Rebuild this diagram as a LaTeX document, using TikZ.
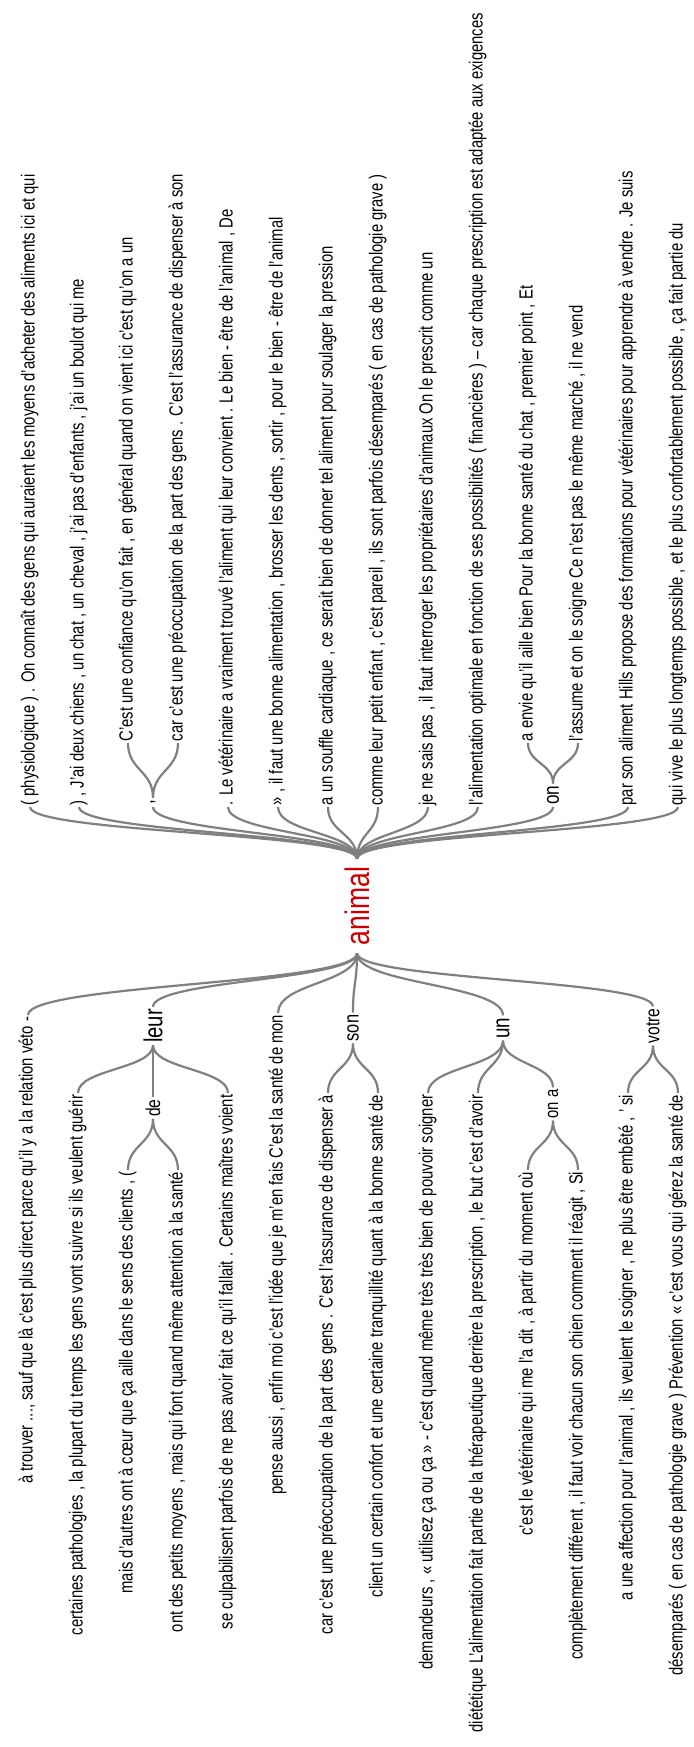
\documentclass[tikz,border=0pt]{standalone}
\usepackage{fontspec}
\setmainfont{Liberation Sans}[FakeStretch=0.78]
\usetikzlibrary{calc}
\definecolor{lk}{RGB}{128,128,128}
\definecolor{anim}{RGB}{204,0,0}
\tikzset{
  leaf/.style={rotate=90, inner sep=1.5pt, font=\fontsize{19}{21}\selectfont, text height=13pt, text depth=4pt},
  rl/.style={leaf, anchor=west},
  ll/.style={leaf, anchor=east},
  wd/.style={rotate=90, inner sep=2pt, font=\fontsize{#1}{#1}\selectfont},
  lnk/.style={draw=lk, line width=2.2pt,
    to path={let \p1=(\tikztostart), \p2=(\tikztotarget) in
      .. controls (\x1,{0.5*(\y1+\y2)}) and (\x2,{0.5*(\y1+\y2)}) .. (\tikztotarget)}}
}
\begin{document}
\begin{tikzpicture}[x=1pt,y=-1pt]
\useasboundingbox (0,0) rectangle (693,1747);
% centre
\node[rotate=90, inner xsep=8pt, inner ysep=2pt, text=anim, font=\fontsize{34}{34}\selectfont] (animal) at (357,906) {animal};
% right branch
\node[rl] (r1) at (30,807) {( physiologique ) . On connaît des gens qui auraient les moyens d'acheter des aliments ici et qui};
\node[rl] (r2) at (79,807) {) , J'ai deux chiens , un chat , un cheval , j'ai pas d'enfants , j'ai un boulot qui me};
\node[wd=22, anchor=west] (r3) at (153,807) {,};
\node[rl] (r3a) at (128,743) {C'est une confiance qu'on fait , en général quand on vient ici c'est qu'on a un};
\node[rl] (r3b) at (178,743) {car c'est une préoccupation de la part des gens . C'est l'assurance de dispenser à son};
\node[rl] (r4) at (228,807) {. Le vétérinaire a vraiment trouvé l'aliment qui leur convient . Le bien - être de l'animal , De};
\node[rl] (r5) at (278,807) {» , il faut une bonne alimentation , brosser les dents , sortir , pour le bien - être de l'animal};
\node[rl] (r6) at (328,807) {a un souffle cardiaque , ce serait bien de donner tel aliment pour soulager la pression};
\node[rl] (r7) at (378,807) {comme leur petit enfant , c'est pareil , ils sont parfois désemparés ( en cas de pathologie grave )};
\node[rl] (r8) at (428,807) {je ne sais pas , il faut interroger les propriétaires d'animaux On le prescrit comme un};
\node[rl] (r9) at (478,807) {l'alimentation optimale en fonction de ses possibilités ( financières ) – car chaque prescription est adaptée aux exigences};
\node[wd=22, anchor=west] (r10) at (553,807) {on};
\node[rl] (r10a) at (528,743) {a envie qu'il aille bien Pour la bonne santé du chat , premier point , Et};
\node[rl] (r10b) at (578,743) {l'assume et on le soigne Ce n'est pas le même marché , il ne vend};
\node[rl] (r11) at (628,807) {par son aliment Hills propose des formations pour vétérinaires pour apprendre à vendre . Je suis};
\node[rl] (r12) at (678,807) {qui vive le plus longtemps possible , et le plus confortablement possible , ça fait partie du};
% left branch
\node[ll] (l1) at (28,1015) {à trouver ..., sauf que là c'est plus direct parce qu'il y a la relation véto -};
\node[wd=26] (l2) at (153,1026) {leur};
\node[ll] (l2a) at (78,1093) {certaines pathologies , la plupart du temps les gens vont suivre si ils veulent guérir};
\node[wd=20] (l2b) at (153,1108) {de};
\node[ll] (l2b1) at (128,1170) {mais d'autres ont à cœur que ça aille dans le sens des clients , (};
\node[ll] (l2b2) at (178,1170) {ont des petits moyens , mais qui font quand même attention à la santé};
\node[ll] (l2c) at (228,1093) {se culpabilisent parfois de ne pas avoir fait ce qu'il fallait . Certains maîtres voient};
\node[ll] (l3) at (278,1013) {pense aussi , enfin moi c'est l'idée que je m'en fais C'est la santé de mon};
\node[wd=21] (l4) at (353,1028) {son};
\node[ll] (l4a) at (328,1093) {car c'est une préoccupation de la part des gens . C'est l'assurance de dispenser à};
\node[ll] (l4b) at (378,1093) {client un certain confort et une certaine tranquillité quant à la bonne santé de};
\node[wd=24] (l5) at (503,1028) {un};
\node[ll] (l5a) at (428,1093) {demandeurs , « utilisez ça ou ça » - c'est quand même très très bien de pouvoir soigner};
\node[ll] (l5b) at (478,1093) {diététique L'alimentation fait partie de la thérapeutique derrière la prescription , le but c'est d'avoir};
\node[wd=19] (l5c) at (553,1104) {on a};
\node[ll] (l5c1) at (528,1170) {c'est le vétérinaire qui me l'a dit , à partir du moment où};
\node[ll] (l5c2) at (578,1170) {complètement différent , il faut voir chacun son chien comment il réagit , Si};
\node[wd=20] (l6) at (653,1026) {votre};
\node[ll] (l6a) at (628,1093) {a une affection pour l'animal , ils veulent le soigner , ne plus être embêté , ' si};
\node[ll] (l6b) at (678,1093) {désemparés ( en cas de pathologie grave ) Prévention « c'est vous qui gérez la santé de};
% connectors, right
\foreach \k in {r1,r2,r3,r4,r5,r6,r7,r8,r9,r10,r11,r12}
  \draw[lnk] (animal.east) to (\k.west);
\foreach \k in {r3a,r3b} \draw[lnk] (r3.east) to (\k.west);
\foreach \k in {r10a,r10b} \draw[lnk] (r10.east) to (\k.west);
% connectors, left
\foreach \k in {l1,l2,l3,l4,l5,l6}
  \draw[lnk] (animal.west) to (\k.east);
\foreach \k in {l2a,l2b,l2c} \draw[lnk] (l2.west) to (\k.east);
\foreach \k in {l2b1,l2b2} \draw[lnk] (l2b.west) to (\k.east);
\foreach \k in {l4a,l4b} \draw[lnk] (l4.west) to (\k.east);
\foreach \k in {l5a,l5b,l5c} \draw[lnk] (l5.west) to (\k.east);
\foreach \k in {l5c1,l5c2} \draw[lnk] (l5c.west) to (\k.east);
\foreach \k in {l6a,l6b} \draw[lnk] (l6.west) to (\k.east);
\end{tikzpicture}
\end{document}
